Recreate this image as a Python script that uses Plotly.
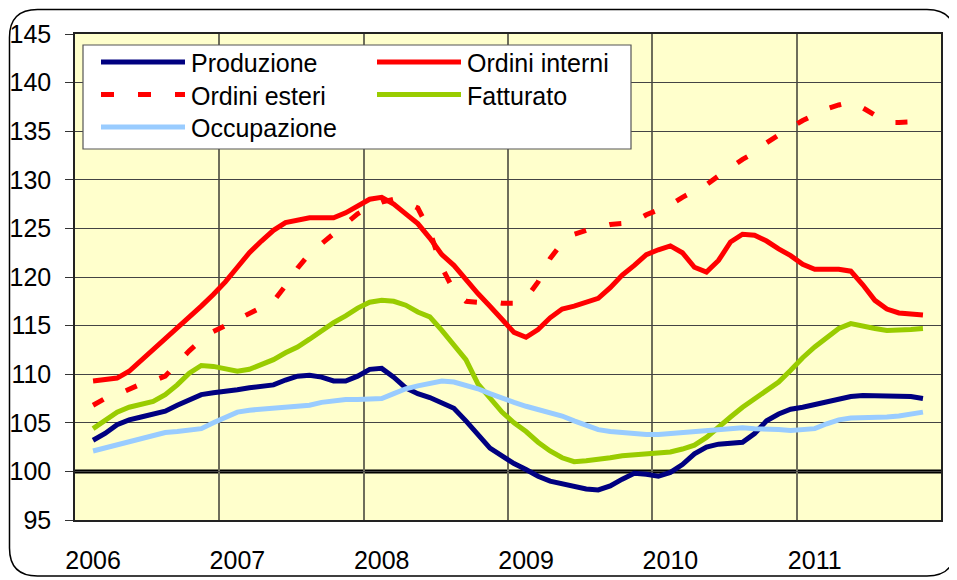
import plotly.graph_objects as go

# ---- data -------------------------------------------------------------
months = [f"{2006 + (i + 1) // 12}-{(i + 1) % 12 + 1:02d}" for i in range(70)]  # Feb 2006 .. Nov 2011
years = ["2006", "2007", "2008", "2009", "2010", "2011"]

produzione = [103.2, 103.9, 104.8, 105.3, 105.6, 105.9, 106.2, 106.8, 107.4, 107.9,
              108.1, 108.2, 108.4, 108.6, 108.8, 108.9, 109.4, 109.8, 109.9, 109.7,
              109.3, 109.3, 109.8, 110.5, 110.6, 109.7, 108.6, 108.0, 107.6, 107.1,
              106.5, 105.2, 103.7, 102.4, 101.6, 100.8, 100.2, 99.5, 99.0, 98.7,
              98.4, 98.2, 98.1, 98.5, 99.2, 99.8, 99.7, 99.5, 99.9, 100.7,
              101.8, 102.5, 102.8, 102.9, 103.0, 103.9, 105.2, 105.9, 106.4, 106.6,
              106.9, 107.2, 107.5, 107.7, 107.8, 107.8, 107.8, 107.8, 107.7, 107.5]

ordini_interni = [109.3, 109.5, 109.6, 110.3, 111.4, 112.5, 113.7, 114.7, 115.8, 117.0,
                  118.2, 119.5, 121.0, 122.5, 123.7, 124.8, 125.6, 125.9, 126.1, 126.1,
                  126.1, 126.6, 127.3, 128.0, 128.2, 127.5, 126.5, 125.5, 124.0, 122.3,
                  121.2, 119.7, 118.3, 117.0, 115.6, 114.3, 113.8, 114.6, 115.8, 116.7,
                  117.0, 117.4, 117.8, 118.9, 120.2, 121.2, 122.3, 122.8, 123.2, 122.5,
                  121.0, 120.5, 121.7, 123.6, 124.4, 124.3, 123.7, 122.9, 122.2, 121.3,
                  120.8, 120.8, 120.8, 120.6, 119.2, 117.6, 116.7, 116.3, 116.2, 116.1]

ordini_esteri = [106.8, 107.5, 107.9, 108.4, 109.0, 109.3, 109.8, 111.1, 112.4, 113.5,
                 114.4, 115.0, 115.6, 116.3, 116.9, 117.5, 119.1, 120.9, 122.4, 123.4,
                 124.5, 125.5, 126.5, 127.2, 127.7, 128.0, 127.7, 127.1, 124.7, 121.0,
                 118.6, 117.5, 117.4, 117.5, 117.3, 117.3, 117.8, 119.5, 121.9, 123.5,
                 124.4, 124.8, 125.1, 125.4, 125.5, 125.7, 126.4, 126.9, 127.4, 128.2,
                 128.8, 129.5, 130.4, 131.3, 132.1, 132.8, 133.8, 134.6, 135.4, 136.1,
                 136.7, 137.3, 137.7, 138.0, 137.4, 136.6, 135.9, 135.9, 135.9, 136.0]

fatturato = [104.4, 105.2, 106.1, 106.6, 106.9, 107.2, 107.9, 108.9, 110.1, 110.9,
             110.8, 110.5, 110.3, 110.5, 111.0, 111.5, 112.2, 112.8, 113.6, 114.5,
             115.3, 116.0, 116.8, 117.4, 117.6, 117.5, 117.1, 116.4, 115.9, 114.5,
             113.0, 111.5, 109.0, 107.5, 106.1, 105.0, 104.1, 103.0, 102.1, 101.4,
             101.0, 101.1, 101.2, 101.4, 101.6, 101.7, 101.7, 101.8, 102.0, 102.3,
             102.7, 103.5, 104.6, 105.6, 106.6, 107.5, 108.3, 109.2, 110.4, 111.7,
             112.8, 113.8, 114.7, 115.2, 114.9, 114.7, 114.5, 114.5, 114.6, 114.7]

occupazione = [102.1, 102.4, 102.7, 103.0, 103.4, 103.7, 104.0, 104.1, 104.2, 104.4,
               105.0, 105.6, 106.1, 106.3, 106.4, 106.5, 106.6, 106.7, 106.8, 107.1,
               107.3, 107.4, 107.4, 107.4, 107.5, 108.0, 108.5, 108.8, 109.1, 109.3,
               109.2, 108.9, 108.5, 108.0, 107.5, 107.1, 106.7, 106.4, 106.1, 105.7,
               105.2, 104.7, 104.3, 104.1, 104.0, 103.8, 103.8, 103.8, 103.9, 104.0,
               104.2, 104.3, 104.4, 104.5, 104.5, 104.4, 104.4, 104.3, 104.2, 104.3,
               104.4, 104.9, 105.3, 105.5, 105.5, 105.5, 105.6, 105.7, 105.9, 106.1]

series = [
    ("Produzione", produzione, "#000080", "solid"),
    ("Ordini interni", ordini_interni, "#FF0000", "solid"),
    ("Ordini esteri", ordini_esteri, "#FF0000", "12px,24px"),
    ("Fatturato", fatturato, "#99CC00", "solid"),
    ("Occupazione", occupazione, "#99CCFF", "solid"),
]

# ---- layout geometry (page offset of 8px from body margin) -------------
OFF = 8
W, H = 957 - OFF, 580 - OFF
ML, MT = 75 - OFF, 34 - OFF
PW, PH = 866, 486
MR, MB = W - ML - PW, H - MT - PH
FONT = "Liberation Sans, Arial, sans-serif"
FS = 25


def px(xp):
    return (xp - OFF - ML) / PW


def py(yp):
    return (MT + PH - (yp - OFF)) / PH


def rounded_rect(x0, y0, x1, y1, r):
    def P(a, b):
        return f"{px(a):.5f},{py(b):.5f}"
    return (f"M {P(x0 + r, y0)} L {P(x1 - r, y0)} Q {P(x1, y0)} {P(x1, y0 + r)} "
            f"L {P(x1, y1 - r)} Q {P(x1, y1)} {P(x1 - r, y1)} "
            f"L {P(x0 + r, y1)} Q {P(x0, y1)} {P(x0, y1 - r)} "
            f"L {P(x0, y0 + r)} Q {P(x0, y0)} {P(x0 + r, y0)} Z")


x = list(range(len(months)))
fig = go.Figure()
for name, vals, color, dash in series:
    fig.add_trace(go.Scatter(
        x=x, y=vals, name=name, mode="lines", showlegend=False,
        customdata=months, hovertemplate="%{customdata}: %{y}<extra>" + name + "</extra>",
        line=dict(color=color, width=5, dash=dash),
    ))

year_ticks = [months.index(f"{y}-02") for y in years]
year_bounds = [months.index(f"{y}-01") - 0.5 for y in years[1:]]

fig.update_xaxes(
    range=[-1.5, 70.5], tickmode="array", tickvals=year_ticks, ticktext=years,
    showgrid=False, ticks="", tickfont=dict(size=FS, color="black", family=FONT),
    showline=True, mirror=True, linecolor="#222222", linewidth=1.5, zeroline=False,
    minor=dict(tickvals=year_bounds, showgrid=True, gridcolor="#6e6e5a", gridwidth=2, ticks=""),
    ticklabelstandoff=17, automargin=False,
)
fig.update_yaxes(
    range=[95, 145], dtick=5, tick0=95, showgrid=True, gridcolor="#444444", gridwidth=1,
    ticks="outside", ticklen=8, tickcolor="#333333", tickwidth=1,
    tickfont=dict(size=FS, color="black", family=FONT),
    showline=True, mirror=True, linecolor="#222222", linewidth=1.5, zeroline=False,
    ticklabelstandoff=9, automargin=False,
)

shapes = [
    dict(type="line", xref="paper", yref="y", x0=0, x1=1, y0=100, y1=100,
         line=dict(color="black", width=4), layer="between"),
    dict(type="path", xref="paper", yref="paper", path=rounded_rect(9.5, 9.5, 955, 576, 28),
         line=dict(color="black", width=1.5), layer="above"),
    dict(type="rect", xref="paper", yref="paper", x0=px(83), x1=px(631), y0=py(45), y1=py(149),
         fillcolor="white", line=dict(color="#555555", width=1.2), layer="above"),
]

legend_items = [
    ("Produzione", "#000080", "solid", 101, 62),
    ("Ordini interni", "#FF0000", "solid", 377, 62),
    ("Ordini esteri", "#FF0000", "13px,24px", 101, 94.5),
    ("Fatturato", "#99CC00", "solid", 377, 94.5),
    ("Occupazione", "#99CCFF", "solid", 101, 127),
]
annotations = []
for name, color, dash, lx, ly in legend_items:
    shapes.append(dict(type="line", xref="paper", yref="paper", x0=px(lx), x1=px(lx + 84),
                       y0=py(ly), y1=py(ly), line=dict(color=color, width=5, dash=dash),
                       layer="above"))
    annotations.append(dict(xref="paper", yref="paper", x=px(lx + 88), y=py(ly + 1.5),
                            text=name, showarrow=False, xanchor="left", yanchor="middle",
                            font=dict(size=FS, color="black", family=FONT)))

fig.update_layout(
    width=W, height=H, margin=dict(l=ML, r=MR, t=MT, b=MB),
    paper_bgcolor="white", plot_bgcolor="#FFFFCC",
    shapes=shapes, annotations=annotations, showlegend=False,
    font=dict(family=FONT, color="black"),
)

fig.write_html("out.html")
